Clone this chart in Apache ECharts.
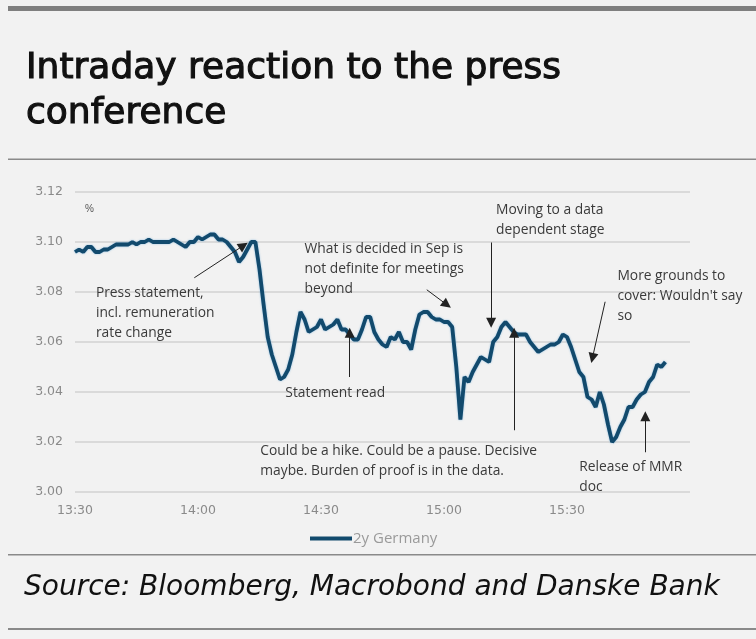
<!DOCTYPE html>
<html>
<head>
<meta charset="utf-8">
<script src="https://cdn.jsdelivr.net/npm/echarts@6/dist/echarts.min.js"></script>
<style>
  html, body { margin: 0; padding: 0; background: #f2f2f2; }
  #chart { width: 756px; height: 639px; }
</style>
</head>
<body>
<div id="chart"></div>
<script>
// minutes after 13:30
var minutes = [
  0, 1, 2, 3, 4, 5, 6, 7, 8, 9, 10, 11, 12, 13, 14, 15, 16, 17, 18, 19,
  20, 21, 22, 23, 24, 25, 26, 27, 28, 29, 30, 31, 32, 33, 34, 35, 36, 37, 38, 39,
  40, 41, 42, 43, 44, 45, 46, 47, 48, 49, 50, 51, 52, 53, 54, 55, 56, 57, 58, 59,
  60, 61, 62, 63, 64, 65, 66, 67, 68, 69, 70, 71, 72, 73, 74, 75, 76, 77, 78, 79,
  80, 81, 82, 83, 84, 85, 86, 87, 88, 89, 90, 91, 92, 93, 94, 95, 96, 97, 98, 99,
  100, 101, 102, 103, 104, 105, 106, 107, 108, 109, 110, 111, 112, 113, 114, 115, 116, 117, 118, 119,
  120, 121, 122, 123, 124, 125, 126, 127, 128, 129, 130, 131, 132, 133, 134, 135, 136, 137, 138, 139,
  140, 141, 142, 143, 144
];

// 2y Germany yield, %
var germany2y = [
  3.096, 3.097, 3.096, 3.098, 3.098, 3.096, 3.096, 3.097, 3.097, 3.098,
  3.099, 3.099, 3.099, 3.099, 3.100, 3.099, 3.100, 3.100, 3.101, 3.100,
  3.100, 3.100, 3.100, 3.100, 3.101, 3.100, 3.099, 3.098, 3.100, 3.100,
  3.102, 3.101, 3.102, 3.103, 3.103, 3.101, 3.101, 3.100, 3.098, 3.096,
  3.092, 3.094, 3.097, 3.100, 3.100, 3.089, 3.075, 3.062, 3.055, 3.050,
  3.045, 3.046, 3.049, 3.055, 3.064, 3.072, 3.069, 3.064, 3.065, 3.066,
  3.069, 3.065, 3.066, 3.067, 3.069, 3.065, 3.065, 3.063, 3.061, 3.061,
  3.065, 3.070, 3.070, 3.064, 3.061, 3.059, 3.058, 3.062, 3.061, 3.064,
  3.060, 3.060, 3.057, 3.065, 3.071, 3.072, 3.072, 3.070, 3.069, 3.069,
  3.068, 3.068, 3.066, 3.050, 3.029, 3.046, 3.044, 3.048, 3.051, 3.054,
  3.053, 3.052, 3.060, 3.062, 3.066, 3.068, 3.066, 3.064, 3.063, 3.063,
  3.063, 3.060, 3.058, 3.056, 3.057, 3.058, 3.059, 3.059, 3.060, 3.063,
  3.062, 3.058, 3.053, 3.048, 3.046, 3.038, 3.037, 3.034, 3.040, 3.035,
  3.027, 3.020, 3.022, 3.026, 3.029, 3.034, 3.034, 3.037, 3.039, 3.040,
  3.044, 3.046, 3.051, 3.050, 3.052
];

var titleText = 'Intraday reaction to the press\nconference';
var sourceText = 'Source: Bloomberg, Macrobond and Danske Bank';
var seriesName = '2y Germany';

// annotation texts, placed by [minute, value] of their top-left corner
var noteTexts = [
  'Press statement,\nincl. remuneration\nrate change',
  'What is decided in Sep is\nnot definite for meetings\nbeyond',
  'Moving to a data\ndependent stage',
  'More grounds to\ncover: Wouldn\'t say\nso',
  'Statement read',
  'Could be a hike. Could be a pause. Decisive\nmaybe. Burden of proof is in the data.',
  'Release of MMR\ndoc'
];
var notePos = [
  [5.1, 3.0837], [56.0, 3.1010], [102.7, 3.1167], [132.3, 3.0904],
  [51.3, 3.0436], [45.2, 3.0203], [123.0, 3.0139]
];
// arrows: from -> to (head at "to")
var arrowFrom = [
  [29.1, 3.0857], [85.8, 3.0809], [101.5, 3.0998], [129.3, 3.0761],
  [67.0, 3.0460], [107.1, 3.0247], [139.1, 3.0159]
];
var arrowTo = [
  [41.1, 3.0986], [90.7, 3.0749], [101.5, 3.0677], [126.2, 3.0536],
  [67.0, 3.0637], [107.1, 3.0637], [139.1, 3.0303]
];

function fmtTime(m) {
  var t = 13 * 60 + 30 + m;
  var h = Math.floor(t / 60), mm = t % 60;
  return h + ':' + (mm < 10 ? '0' : '') + mm;
}

var lineData = minutes.map(function (m, i) { return [m, germany2y[i]]; });

var chart = echarts.init(document.getElementById('chart'));

var option = {
  backgroundColor: '#f2f2f2',
  animation: false,
  title: {
    text: titleText,
    left: 21,
    top: 41,
    textStyle: {
      fontFamily: 'DejaVu Sans',
      fontWeight: 'normal',
      fontSize: 36,
      lineHeight: 45,
      color: '#111',
      textBorderColor: '#111',
      textBorderWidth: 1.1
    }
  },
  legend: {
    bottom: 88,
    left: 305,
    itemWidth: 42,
    itemHeight: 4,
    itemGap: 2,
    icon: 'rect',
    textStyle: { color: '#9a9a9a', fontSize: 15, fontFamily: 'Open Sans', padding: [0, 0, 0, -4] },
    data: [seriesName]
  },
  grid: { left: 75, right: 66, top: 192, bottom: 147 },
  xAxis: {
    type: 'value',
    min: 0,
    max: 150,
    interval: 30,
    axisLine: { show: false },
    axisTick: { show: false },
    splitLine: { show: false },
    axisLabel: {
      color: '#8a8a8a',
      fontSize: 12.5,
      fontFamily: 'DejaVu Sans',
      margin: 12,
      showMaxLabel: false,
      formatter: function (v) { return fmtTime(v); }
    }
  },
  yAxis: {
    type: 'value',
    min: 3.00,
    max: 3.12,
    interval: 0.02,
    name: '%',
    nameLocation: 'end',
    nameGap: -22,
    nameTextStyle: { color: '#555', fontSize: 10, align: 'left', padding: [0, 0, 0, 10] },
    axisLine: { show: false },
    axisTick: { show: false },
    splitLine: { lineStyle: { color: '#d2d2d2', width: 1.5 } },
    axisLabel: {
      color: '#8a8a8a',
      fontSize: 12.5,
      fontFamily: 'DejaVu Sans',
      margin: 12,
      formatter: function (v) { return v.toFixed(2); }
    }
  },
  series: [{
    name: seriesName,
    type: 'line',
    data: lineData,
    showSymbol: false,
    symbol: 'none',
    lineStyle: { color: '#124a6d', width: 3.8, shadowColor: 'rgba(70,150,210,0.6)', shadowBlur: 2 },
    itemStyle: { color: '#124a6d' },
    markLine: {
      silent: true,
      symbol: ['none', 'triangle'],
      symbolSize: 10,
      label: { show: false },
      lineStyle: { color: '#222', width: 1, type: 'solid' },
      itemStyle: { color: '#000' },
      data: arrowFrom.map(function (f, i) {
        return [{ coord: f }, { coord: arrowTo[i] }];
      })
    },
    markPoint: {
      silent: true,
      symbol: 'circle',
      symbolSize: 0,
      data: noteTexts.map(function (t, i) {
        return {
          coord: notePos[i],
          value: t,
          label: {
            show: true,
            position: 'inside',
            align: 'left',
            verticalAlign: 'top',
            formatter: t,
            color: '#3a3a3a',
            fontFamily: 'Open Sans',
            fontSize: 13.8,
            lineHeight: 20
          }
        };
      })
    }
  }],
  graphic: [
    { type: 'rect', shape: { x: 8, y: 6, width: 748, height: 5 }, style: { fill: '#7f7f7f' } },
    { type: 'rect', shape: { x: 8, y: 158.5, width: 748, height: 1.5 }, style: { fill: '#8a8a8a' } },
    { type: 'rect', shape: { x: 8, y: 554, width: 748, height: 1.5 }, style: { fill: '#8a8a8a' } },
    { type: 'rect', shape: { x: 8, y: 628, width: 748, height: 2 }, style: { fill: '#8a8a8a' } },
    {
      type: 'text',
      left: 24,
      top: 574,
      style: {
        text: sourceText,
        fill: '#111',
        font: 'oblique 28px "DejaVu Sans"'
      }
    }
  ]
};

chart.setOption(option);
</script>
</body>
</html>
